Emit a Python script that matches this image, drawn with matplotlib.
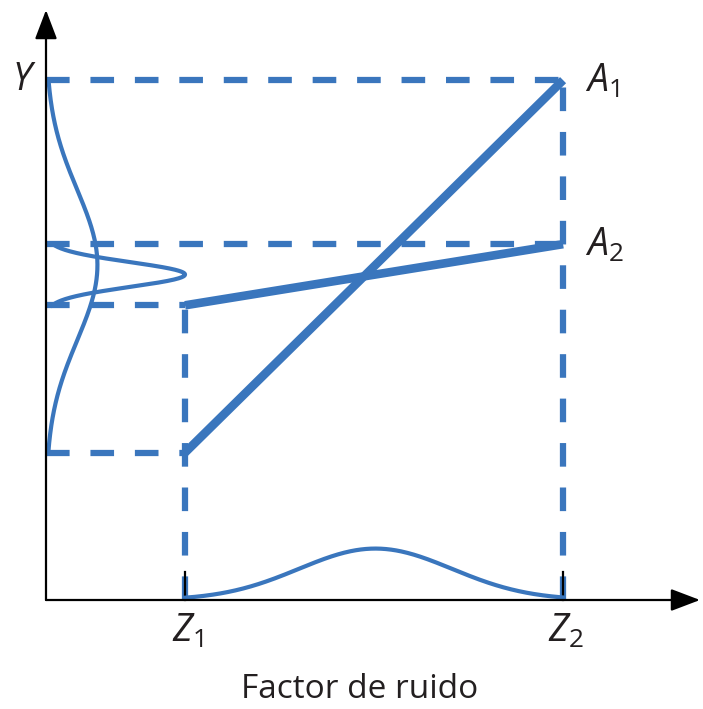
import numpy as np
import matplotlib
matplotlib.use("Agg")
import matplotlib.pyplot as plt

# ---- diagram values (arbitrary units, origin at the axes corner) ----
z_levels = [1.0, 3.72]              # Z1, Z2 on the noise-factor axis
z_labels = ["$Z_1$", "$Z_2$"]
line_a1 = [1.06, 3.74]              # response Y of setting A1 at Z1, Z2
line_a2 = [2.12, 2.56]              # response Y of setting A2 at Z1, Z2
line_labels = ["$A_1$", "$A_2$"]
noise_mean = 2.37                   # centre of the noise distribution
noise_sd = 0.55                     # spread of the noise distribution
noise_height = 0.37                 # height of the noise curve on the Z axis
resp_heights = [0.37, 1.0]          # widths of the response curves for A1, A2
y_label = "$Y$"
x_label = "Factor de ruido"

# ---- styling ----
BLUE = "#3a76bd"
INK = "#231f20"
PX = 139.0  # pixels per unit

plt.rcParams["mathtext.fontset"] = "custom"
plt.rcParams["mathtext.it"] = "Open Sans:italic"
plt.rcParams["mathtext.rm"] = "Open Sans"
plt.rcParams["font.family"] = ["Open Sans", "DejaVu Sans"]
plt.rcParams["lines.scale_dashes"] = False

fig = plt.figure(figsize=(7.03, 7.09), dpi=100)
ax = fig.add_axes([0, 0, 1, 1])
ax.set_xlim(-46 / PX, 657 / PX)
ax.set_ylim(-109 / PX, 600 / PX)
ax.axis("off")

z1, z2 = z_levels
dash = dict(color=BLUE, lw=4.5, dashes=(17, 15), dash_capstyle="butt")

# dashed guide lines
ax.plot([0, z2], [line_a1[1]] * 2, **dash)
ax.plot([0, z2], [line_a2[1]] * 2, **dash)
ax.plot([0, z1], [line_a2[0]] * 2, **dash)
ax.plot([0, z1], [line_a1[0]] * 2, **dash)
ax.plot([z2, z2], [0, line_a1[1]], **dash)
ax.plot([z1, z1], [0, line_a2[0]], **dash)

# response lines
for ys in (line_a1, line_a2):
    ax.plot(z_levels, ys, color=BLUE, lw=6.2, solid_capstyle="butt", zorder=4)

# noise distribution and its image through each response line
z = np.linspace(z1, z2, 300)
g = np.exp(-0.5 * ((z - noise_mean) / noise_sd) ** 2)
ax.plot(z, noise_height * g, color=BLUE, lw=3.0, zorder=3)
for ys, h in zip((line_a1, line_a2), resp_heights):
    y = np.interp(z, z_levels, ys)
    ax.plot(h * g, y, color=BLUE, lw=3.0, zorder=3)

# axes with arrow heads
x_end, y_end = 654 / PX, 590 / PX
arrow = dict(arrowstyle="-|>,head_length=1.0,head_width=0.38", mutation_scale=18,
             lw=1.6, color="black", shrinkA=0, shrinkB=0)
ax.annotate("", xy=(x_end, 0), xytext=(0, 0), arrowprops=arrow, zorder=6)
ax.annotate("", xy=(0, y_end), xytext=(0, 0), arrowprops=arrow, zorder=6)

# tick marks at Z1, Z2
for zz in z_levels:
    ax.plot([zz, zz], [0, 0.2], color="black", lw=1.6, zorder=2)

# labels
ax.text(-22 / PX, line_a1[1], y_label, fontsize=27, color=INK,
        ha="center", va="center")
for ys, lab in zip((line_a1, line_a2), line_labels):
    ax.text(z2 + 22 / PX, ys[1] - 12 / PX, lab, fontsize=27, color=INK,
            ha="left", va="baseline")
for zz, lab in zip(z_levels, z_labels):
    ax.text(zz + 3 / PX, -42 / PX, lab, fontsize=27, color=INK,
            ha="center", va="baseline")
ax.text(314 / PX, -98 / PX, x_label, fontsize=24, color=INK,
        ha="center", va="baseline")

fig.savefig("out.png", dpi=100)
